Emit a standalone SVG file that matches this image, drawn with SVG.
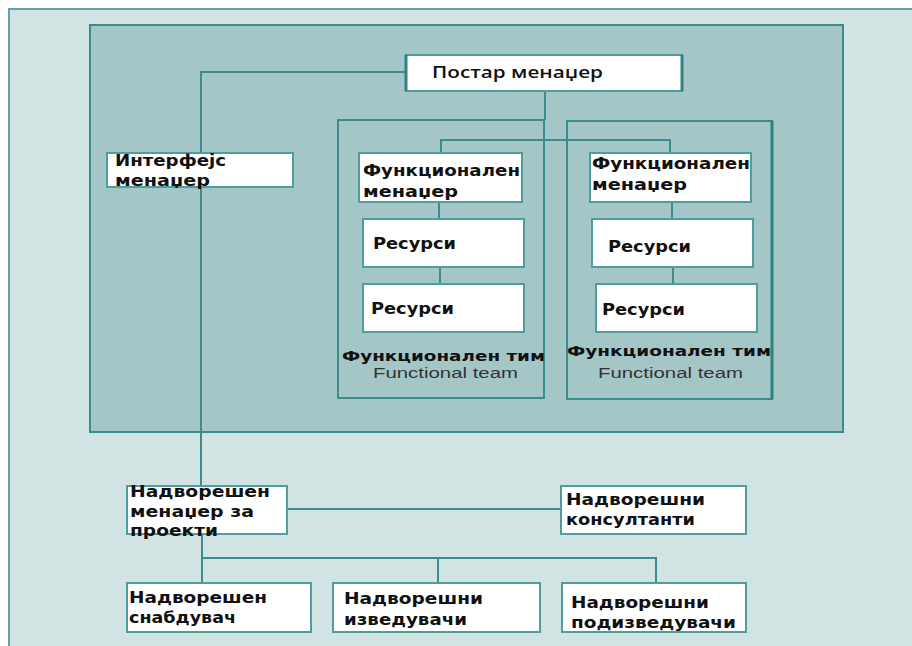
<svg xmlns="http://www.w3.org/2000/svg" width="912" height="646" viewBox="0 0 912 646">
<style>
.box{fill:#ffffff;stroke:#4f9d9d;stroke-width:2}
.ln{fill:none;stroke:#3b8d8d;stroke-width:2}
.t{font-family:"DejaVu Sans",Verdana,sans-serif;font-weight:bold;font-size:15px;fill:#111}
.tt{font-family:"DejaVu Sans",Verdana,sans-serif;font-weight:bold;font-size:14px;fill:#111}
.ft{font-family:"Liberation Sans",Arial,sans-serif;font-size:14px;fill:#333}
.pm{font-family:"Open Sans","Noto Sans",sans-serif;font-weight:600;font-size:17px;fill:#111}
</style>
<rect x="0" y="0" width="912" height="646" fill="#ffffff"/>
<rect id="outer" x="9" y="9" width="920" height="660" fill="#d2e3e3" stroke="#5fa5a5" stroke-width="2"/>
<rect id="inner" x="90" y="25" width="753" height="407" fill="#a4c6c6" stroke="#3a8b8b" stroke-width="2"/>
<g id="team1">
<rect x="338" y="120" width="206" height="278" fill="none" stroke="#3b8d8d" stroke-width="2"/>
<text class="tt" x="342" y="361" textLength="203" lengthAdjust="spacingAndGlyphs">Функционален тим</text>
<text class="ft" x="373" y="378" textLength="145" lengthAdjust="spacingAndGlyphs">Functional team</text>
</g>
<g id="team2">
<rect x="567" y="121" width="205" height="278" fill="none" stroke="#3b8d8d" stroke-width="2"/>
<line x1="772" y1="121" x2="772" y2="399" stroke="#2f8282" stroke-width="3"/>
<text class="tt" x="567" y="356" textLength="204" lengthAdjust="spacingAndGlyphs">Функционален тим</text>
<text class="ft" x="598" y="378" textLength="145" lengthAdjust="spacingAndGlyphs">Functional team</text>
</g>
<g id="connectors">
<polyline class="ln" points="406,72 201,72 201,486"/>
<line class="ln" x1="545" y1="91" x2="545" y2="120"/>
<polyline class="ln" points="441,153 441,140 670,140 670,153"/>
<line class="ln" x1="439" y1="202" x2="439" y2="219"/>
<line class="ln" x1="440" y1="267" x2="440" y2="284"/>
<line class="ln" x1="672" y1="202" x2="672" y2="219"/>
<line class="ln" x1="673" y1="267" x2="673" y2="284"/>
<line class="ln" x1="288" y1="509" x2="561" y2="509"/>
<line class="ln" x1="202" y1="534" x2="202" y2="583"/>
<polyline class="ln" points="202,558 656,558 656,583"/>
<line class="ln" x1="438" y1="558" x2="438" y2="583"/>
</g>
<g id="postar">
<rect class="box" x="406" y="55" width="276" height="36"/>
<line x1="406" y1="55" x2="406" y2="91" stroke="#2f8282" stroke-width="3"/>
<line x1="682" y1="55" x2="682" y2="91" stroke="#2f8282" stroke-width="3"/>
<text class="pm" x="432" y="78" textLength="171" lengthAdjust="spacingAndGlyphs">Постар менаџер</text>
</g>
<g id="interfejs">
<rect class="box" x="107" y="153" width="186" height="34"/>
<text class="t" x="115" y="166" textLength="111" lengthAdjust="spacingAndGlyphs">Интерфејс</text>
<text class="t" x="115" y="186" textLength="95" lengthAdjust="spacingAndGlyphs">менаџер</text>
</g>
<g id="fm1">
<rect class="box" x="359" y="153" width="163" height="49"/>
<text class="t" x="363" y="176" textLength="157" lengthAdjust="spacingAndGlyphs">Функционален</text>
<text class="t" x="363" y="197" textLength="95" lengthAdjust="spacingAndGlyphs">менаџер</text>
</g>
<g id="r1a">
<rect class="box" x="363" y="219" width="161" height="48"/>
<text class="t" x="373" y="249" textLength="83" lengthAdjust="spacingAndGlyphs">Ресурси</text>
</g>
<g id="r1b">
<rect class="box" x="363" y="284" width="161" height="48"/>
<text class="t" x="371" y="314" textLength="83" lengthAdjust="spacingAndGlyphs">Ресурси</text>
</g>
<g id="fm2">
<rect class="box" x="590" y="153" width="161" height="49"/>
<text class="t" x="592" y="169" textLength="158" lengthAdjust="spacingAndGlyphs">Функционален</text>
<text class="t" x="592" y="190" textLength="95" lengthAdjust="spacingAndGlyphs">менаџер</text>
</g>
<g id="r2a">
<rect class="box" x="592" y="219" width="161" height="48"/>
<text class="t" x="608" y="252" textLength="83" lengthAdjust="spacingAndGlyphs">Ресурси</text>
</g>
<g id="r2b">
<rect class="box" x="596" y="284" width="161" height="48"/>
<text class="t" x="602" y="315" textLength="83" lengthAdjust="spacingAndGlyphs">Ресурси</text>
</g>
<g id="ext-pm">
<rect class="box" x="127" y="486" width="160" height="48"/>
<text class="t" x="130" y="497" textLength="140" lengthAdjust="spacingAndGlyphs">Надворешен</text>
<text class="t" x="130" y="517" textLength="124" lengthAdjust="spacingAndGlyphs">менаџер за</text>
<text class="t" x="130" y="536" textLength="88" lengthAdjust="spacingAndGlyphs">проекти</text>
</g>
<g id="konsultanti">
<rect class="box" x="561" y="486" width="185" height="48"/>
<text class="t" x="566" y="505" textLength="139" lengthAdjust="spacingAndGlyphs">Надворешни</text>
<text class="t" x="566" y="525" textLength="129" lengthAdjust="spacingAndGlyphs">консултанти</text>
</g>
<g id="snabduvac">
<rect class="box" x="127" y="583" width="184" height="49"/>
<text class="t" x="129" y="603" textLength="138" lengthAdjust="spacingAndGlyphs">Надворешен</text>
<text class="t" x="129" y="623" textLength="107" lengthAdjust="spacingAndGlyphs">снабдувач</text>
</g>
<g id="izveduvaci">
<rect class="box" x="333" y="583" width="207" height="49"/>
<text class="t" x="344" y="604" textLength="139" lengthAdjust="spacingAndGlyphs">Надворешни</text>
<text class="t" x="344" y="625" textLength="123" lengthAdjust="spacingAndGlyphs">изведувачи</text>
</g>
<g id="podizveduvaci">
<rect class="box" x="562" y="583" width="184" height="49"/>
<text class="t" x="571" y="608" textLength="138" lengthAdjust="spacingAndGlyphs">Надворешни</text>
<text class="t" x="571" y="628" textLength="165" lengthAdjust="spacingAndGlyphs">подизведувачи</text>
</g>
</svg>
